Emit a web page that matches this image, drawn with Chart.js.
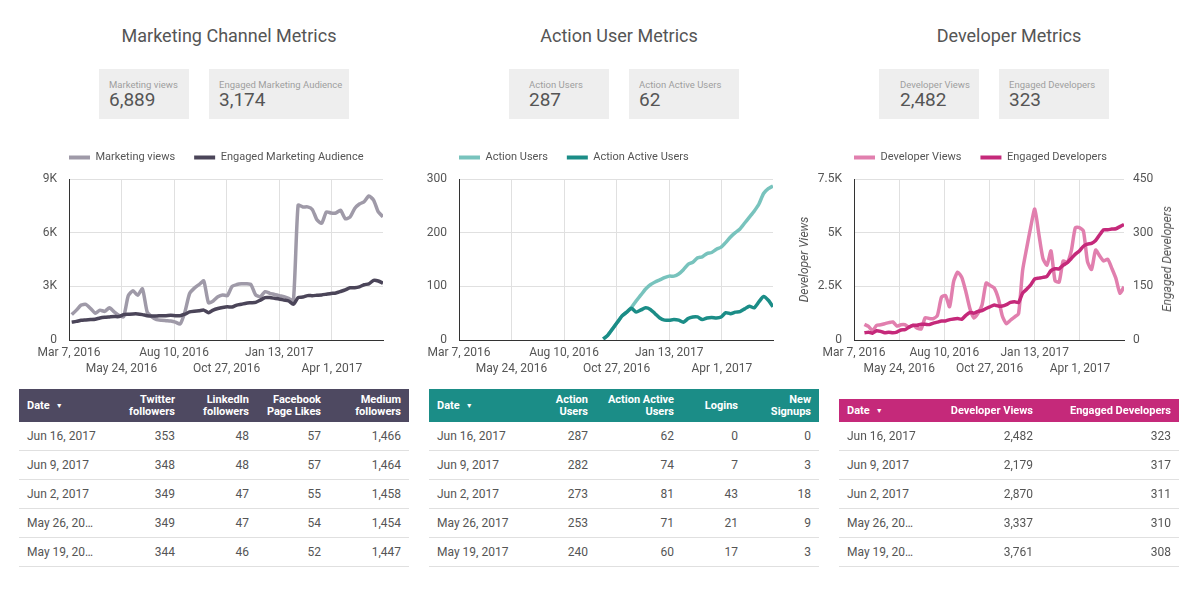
<!DOCTYPE html>
<html>
<head>
<meta charset="utf-8">
<script src="https://cdn.jsdelivr.net/npm/chart.js@4.4.0/dist/chart.umd.min.js"></script>
<style>
  body { margin: 0; width: 1198px; height: 589px; position: relative; background: #fff;
         font-family: Roboto, sans-serif; color: #555; overflow: hidden; }
  .title { position: absolute; top: 27px; font-size: 18px; line-height: 1; color: #555;
           transform: translateX(-50%); white-space: nowrap; }
  .kpi { position: absolute; top: 69px; height: 50px; background: #eeeeee; }
  .kpi .lbl { position: absolute; top: 11px; font-size: 9.5px; line-height: 1; color: #9e9e9e; white-space: nowrap; }
  .kpi .val { position: absolute; top: 21px; font-size: 19px; line-height: 1; color: #555; }
  .chart { position: absolute; top: 120px; height: 269px; }
  .axtitle { position: absolute; font-size: 12px; font-style: italic; color: #555; white-space: nowrap;
             transform: translate(-50%, -50%) rotate(-90deg); }
  table { position: absolute; border-collapse: collapse; table-layout: fixed; font-size: 12px; color: #555; }
  th { color: #fff; font-weight: bold; font-size: 11px; line-height: 12px; text-align: right; padding: 0 8px; }
  td { height: 28px; padding: 0 8px; text-align: right; border-bottom: 1px solid #e0e0e0; white-space: nowrap; }
  th:first-child, td:first-child { text-align: left; overflow: hidden; text-overflow: ellipsis; }
  .arrow { font-size: 7px; margin-left: 6px; vertical-align: 1px; }
</style>
</head>
<body>

<div class="title" style="left:229px">Marketing Channel Metrics</div>
<div class="title" style="left:619px">Action User Metrics</div>
<div class="title" style="left:1009px">Developer Metrics</div>

<div class="kpi" style="left:99px;width:90px"><div class="lbl" style="left:10px">Marketing views</div><div class="val" id="k1" style="left:10px"></div></div>
<div class="kpi" style="left:209px;width:140px"><div class="lbl" style="left:10px">Engaged Marketing Audience</div><div class="val" id="k2" style="left:10px"></div></div>
<div class="kpi" style="left:509px;width:100px"><div class="lbl" style="left:20px">Action Users</div><div class="val" id="k3" style="left:20px"></div></div>
<div class="kpi" style="left:629px;width:110px"><div class="lbl" style="left:10px">Action Active Users</div><div class="val" id="k4" style="left:10px"></div></div>
<div class="kpi" style="left:879px;width:100px"><div class="lbl" style="left:21px">Developer Views</div><div class="val" id="k5" style="left:21px"></div></div>
<div class="kpi" style="left:999px;width:110px"><div class="lbl" style="left:10px">Engaged Developers</div><div class="val" id="k6" style="left:10px"></div></div>

<div class="chart" style="left:20px;width:380px"><canvas id="chartMarketing"></canvas></div>
<div class="chart" style="left:420px;width:380px"><canvas id="chartAction"></canvas></div>
<div class="chart" style="left:798px;width:400px"><canvas id="chartDeveloper"></canvas></div>
<div class="axtitle" style="left:1167px;top:259px">Engaged Developers</div>

<table id="tMarketing" style="left:19px;top:389px;width:390px"></table>
<table id="tAction" style="left:429px;top:389px;width:390px"></table>
<table id="tDeveloper" style="left:839px;top:399px;width:340px"></table>

<script>
// x axis is days since Mar 7, 2016; each series is weekly (Fridays) up to Jun 16, 2017
const xTickDays = [0, 78, 156, 234, 312, 390];
const mvFirstDay = 4;    // Mar 11, 2016
const auFirstDay = 214;  // Oct 7, 2016
const dvFirstDay = 18;   // Mar 25, 2016

const mvViews = [1420, 1670, 1950, 1990, 1760, 1500, 1670, 1600, 1800, 1570,
    1380, 1300, 2480, 2750, 2500, 2860, 1570, 1290, 1140, 1100,
    1080, 1060, 1000, 900, 1570, 2600, 2900, 3100, 3300, 2080,
    2180, 2420, 2520, 2480, 3000, 3100, 3140, 3140, 3100, 2520,
    2420, 2700, 2610, 2550, 2480, 2420, 2330, 2180, 7540, 7440,
    7440, 7300, 6720, 6530, 7160, 7100, 7100, 7250, 6780, 6870,
    7350, 7600, 7730, 8050, 7820, 7160, 6889];
const mvEngaged = [1000, 1040, 1100, 1120, 1140, 1160, 1230, 1270, 1290, 1310,
    1310, 1420, 1440, 1460, 1460, 1420, 1360, 1340, 1340, 1360,
    1360, 1380, 1360, 1360, 1440, 1570, 1610, 1630, 1670, 1530,
    1670, 1760, 1820, 1860, 1840, 1950, 2000, 2060, 2080, 2100,
    2230, 2370, 2370, 2330, 2290, 2230, 2180, 2000, 2370, 2400,
    2480, 2480, 2500, 2520, 2560, 2600, 2630, 2710, 2800, 2920,
    2920, 2970, 3090, 3140, 3330, 3300, 3174];

const auUsers = [2, 9, 21, 33, 45, 52, 61, 73, 84, 95,
    103, 108, 112, 116, 119, 119, 123, 131, 141, 145,
    153, 155, 161, 163, 169, 173, 182, 192, 200, 207,
    218, 229, 240, 253, 273, 282, 287];
const auActive = [2, 9, 21, 33, 45, 52, 59, 52, 56, 60,
    57, 49, 41, 37, 37, 38, 37, 33, 40, 43,
    43, 38, 41, 42, 41, 43, 51, 49, 52, 53,
    58, 63, 60, 71, 81, 74, 62];

const dvViews = [730, 630, 440, 680, 710, 760, 810, 840, 650, 710,
    710, 600, 680, 550, 520, 1040, 1000, 1000, 1150, 1990,
    2070, 1550, 2730, 3160, 2920, 2260, 1470, 1030, 1240, 1630,
    2650, 2540, 2420, 1940, 1120, 760, 920, 1070, 1230, 3240,
    4280, 5260, 6100, 4940, 3810, 3490, 4150, 2760, 2700, 3680,
    3600, 4150, 5230, 5230, 5070, 3650, 3290, 4190, 3920, 3680,
    3761, 3337, 2870, 2179, 2482];
const dvEngaged = [20, 22, 19, 26, 24, 20, 22, 20, 22, 28,
    29, 36, 41, 41, 44, 44, 43, 47, 50, 53,
    53, 57, 59, 60, 58, 69, 77, 75, 80, 82,
    88, 93, 98, 95, 95, 99, 105, 107, 105, 131,
    142, 154, 171, 173, 175, 178, 194, 199, 199, 209,
    216, 228, 240, 249, 262, 268, 270, 278, 294, 308,
    308, 310, 311, 317, 323];

const tableDates = ["Jun 16, 2017", "Jun 9, 2017", "Jun 2, 2017", "May 26, 2017", "May 19, 2017"];
const twitterFollowers = [353, 348, 349, 349, 344];
const linkedinFollowers = [48, 48, 47, 47, 46];
const facebookLikes = [57, 57, 55, 54, 52];
const mediumFollowers = [1466, 1464, 1458, 1454, 1447];
const logins = [0, 7, 43, 21, 17];
const newSignups = [0, 3, 18, 9, 3];

const GRID = "#e0e0e0";
const AXIS = "#333";

Chart.defaults.font.family = "Roboto";
Chart.defaults.color = "#555";

function fmt(n) { return n.toLocaleString("en-US"); }

["k1", "k2", "k3", "k4", "k5", "k6"].forEach(function (id, i) {
    const s = [mvViews, mvEngaged, auUsers, auActive, dvViews, dvEngaged][i];
    document.getElementById(id).textContent = fmt(s[s.length - 1]);
});

function weekly(values, firstDay) {
    return values.map(function (v, i) { return { x: firstDay + 7 * i, y: v }; });
}

function dayLabel(v) {
    const d = new Date(2016, 2, 7 + v);
    return d.toLocaleDateString("en-US", { month: "short", day: "numeric", year: "numeric" });
}

function kLabel(v) { return v === 0 ? "0" : (v / 1000) + "K"; }

function line(label, data, color, order, axis) {
    return {
        label: label, data: data, borderColor: color, backgroundColor: color,
        borderWidth: 3.5, pointRadius: 0, tension: 0.2, order: order,
        borderJoinStyle: "round", yAxisID: axis || "y",
    };
}

function xScale() {
    return {
        type: "linear", min: 0, max: 466,
        grid: { color: GRID, drawTicks: false },
        border: { color: AXIS },
        ticks: {
            autoSkip: false, maxRotation: 0, padding: 5,
            font: { size: 12, lineHeight: 1.3333 },
            callback: function (v, i) { return i % 2 ? ["", dayLabel(v)] : dayLabel(v); },
        },
        afterBuildTicks: function (s) { s.ticks = xTickDays.map(function (d) { return { value: d }; }); },
        afterFit: function (s) { s.paddingLeft = 0; s.paddingRight = 0; },
    };
}

function yScale(max, step, cb, width) {
    return {
        min: 0, max: max,
        grid: { color: GRID, drawTicks: false },
        border: { color: AXIS },
        ticks: { stepSize: step, padding: 12, font: { size: 12 }, callback: cb },
        afterFit: function (s) { s.width = width; },
    };
}

// legend: shorter box, left edge lined up with the plot area
const legendFit = {
    id: "legendFit",
    beforeInit: function (chart) {
        const fit = chart.legend.fit;
        chart.legend.fit = function () { fit.call(this); this.height = 46; };
    },
    afterLayout: function (chart) {
        const lg = chart.legend;
        const dx = chart.chartArea.left - lg.left - lg.options.labels.padding;
        lg.left += dx;
        lg.right += dx;
    },
};

const legendOpts = {
    align: "start",
    labels: {
        boxWidth: 21, boxHeight: 4, padding: 19, color: "#555", font: { size: 11 },
        sort: function (a, b) { return a.datasetIndex - b.datasetIndex; },
        generateLabels: function (chart) {
            return Chart.defaults.plugins.legend.labels.generateLabels(chart).map(function (l) {
                l.lineWidth = 0;
                return l;
            });
        },
    },
};

function baseOptions(rightPad, scales) {
    return {
        responsive: true, maintainAspectRatio: false, animation: false,
        layout: { padding: { top: 13, right: rightPad, bottom: 7, left: 0 } },
        plugins: { legend: legendOpts, tooltip: { enabled: false } },
        scales: scales,
    };
}

new Chart(document.getElementById("chartMarketing"), {
    type: "line",
    data: {
        datasets: [
            line("Marketing views", weekly(mvViews, mvFirstDay), "#9f9aa8", 1),
            line("Engaged Marketing Audience", weekly(mvEngaged, mvFirstDay), "#4b4559", 0),
        ],
    },
    options: baseOptions(17, { x: xScale(), y: yScale(9000, 3000, kLabel, 49) }),
    plugins: [legendFit],
});

new Chart(document.getElementById("chartAction"), {
    type: "line",
    data: {
        datasets: [
            line("Action Users", weekly(auUsers, auFirstDay), "#78c3bd", 1),
            line("Action Active Users", weekly(auActive, auFirstDay), "#1b8d87", 0),
        ],
    },
    options: baseOptions(27, { x: xScale(), y: yScale(300, 100, function (v) { return v; }, 39) }),
    plugins: [legendFit],
});

const devLeft = yScale(7500, 2500, kLabel, 56);
devLeft.title = { display: true, text: "Developer Views", font: { size: 12, style: "italic" }, padding: 0, color: "#555" };
const devRight = yScale(450, 150, function (v) { return v; }, 74);
devRight.position = "right";
devRight.grid = { display: false, drawTicks: false };
devRight.border = { display: false };
devRight.ticks.padding = 9;

new Chart(document.getElementById("chartDeveloper"), {
    type: "line",
    data: {
        datasets: [
            line("Developer Views", weekly(dvViews, dvFirstDay), "#e17fae", 1, "y"),
            line("Engaged Developers", weekly(dvEngaged, dvFirstDay), "#c5297a", 0, "y1"),
        ],
    },
    options: baseOptions(0, { x: xScale(), y: devLeft, y1: devRight }),
    plugins: [legendFit],
});

// tables
function makeTable(id, color, headers, widths, cols, headHeight) {
    let html = "<colgroup>" + widths.map(function (w) { return '<col style="width:' + w + 'px">'; }).join("") + "</colgroup>";
    html += '<tr style="background:' + color + ';height:' + headHeight + 'px">';
    html += headers.map(function (h, i) {
        return "<th>" + h + (i === 0 ? '<span class="arrow">&#9660;</span>' : "") + "</th>";
    }).join("") + "</tr>";
    tableDates.forEach(function (d, r) {
        html += '<tr><td>' + d + "</td>" + cols.map(function (c) { return "<td>" + fmt(c[r]) + "</td>"; }).join("") + "</tr>";
    });
    document.getElementById(id).innerHTML = html;
}

function lastFive(s) { return s.slice(-5).reverse(); }

makeTable("tMarketing", "#4e4961",
    ["Date", "Twitter<br>followers", "LinkedIn<br>followers", "Facebook<br>Page Likes", "Medium<br>followers"],
    [86.8, 77.2, 74, 72, 80],
    [twitterFollowers, linkedinFollowers, facebookLikes, mediumFollowers], 33);

makeTable("tAction", "#1b8d87",
    ["Date", "Action<br>Users", "Action Active<br>Users", "Logins", "New<br>Signups"],
    [91, 76, 86, 64, 73],
    [lastFive(auUsers), lastFive(auActive), logins, newSignups], 33);

makeTable("tDeveloper", "#c5297a",
    ["Date", "Developer Views", "Engaged Developers"],
    [86.8, 115.2, 138],
    [lastFive(dvViews), lastFive(dvEngaged)], 23);
</script>
</body>
</html>
